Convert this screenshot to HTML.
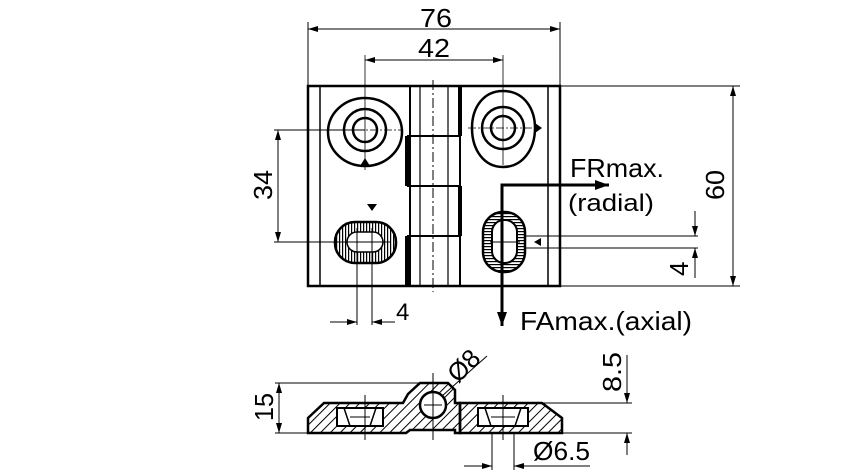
<!DOCTYPE html>
<html><head><meta charset="utf-8"><style>
html,body{margin:0;padding:0;background:#fff;}
svg{display:block;}
text{font-family:"Liberation Sans","DejaVu Sans",sans-serif;fill:#000;}
</style></head><body>
<svg width="850" height="475" viewBox="0 0 850 475" xmlns="http://www.w3.org/2000/svg">
<defs>
<marker id="a" viewBox="0 0 10 6" refX="10" refY="3" markerWidth="10" markerHeight="6" orient="auto-start-reverse" markerUnits="userSpaceOnUse"><path d="M0,0L10,3L0,6z"/></marker>
<marker id="b" viewBox="0 0 14 10" refX="14" refY="5" markerWidth="14" markerHeight="10" orient="auto" markerUnits="userSpaceOnUse"><path d="M0,0L14,5L0,10z"/></marker>
<pattern id="h" width="3" height="3" patternUnits="userSpaceOnUse"><rect width="3" height="1.2" fill="#000"/></pattern>
<pattern id="v" width="3" height="3" patternUnits="userSpaceOnUse"><rect width="1.2" height="3" fill="#000"/></pattern>
<pattern id="d" width="7" height="7" patternUnits="userSpaceOnUse" patternTransform="rotate(45)"><rect width="1" height="7" fill="#000"/></pattern>
</defs>
<g stroke="#000" fill="none">
<rect x="308" y="86" width="252" height="200" stroke-width="2.5"/>
<line x1="320" y1="86" x2="320" y2="286" stroke-width="1.5"/>
<line x1="548" y1="86" x2="548" y2="286" stroke-width="1.5"/>
<line x1="410" y1="86" x2="410" y2="286" stroke-width="2"/>
<line x1="420" y1="86" x2="420" y2="286" stroke-width="1.2"/>
<line x1="448" y1="86" x2="448" y2="286" stroke-width="1.2"/>
<line x1="460" y1="86" x2="460" y2="286" stroke-width="2"/>
<line x1="433" y1="80" x2="433" y2="292" stroke-width="1" stroke-dasharray="10,3,2,3"/>
<g stroke-width="4">
<line x1="460" y1="86" x2="460" y2="136"/><line x1="407" y1="136" x2="407" y2="186"/>
<line x1="460" y1="186" x2="460" y2="236"/><line x1="407" y1="236" x2="407" y2="286"/>
</g>
<g stroke-width="2"><line x1="407" y1="136" x2="460" y2="136"/><line x1="407" y1="186" x2="460" y2="186"/><line x1="407" y1="236" x2="460" y2="236"/></g>
<ellipse cx="365" cy="132" rx="37" ry="34" stroke-width="2.5"/>
<circle cx="365" cy="130" r="21" stroke-width="2.5"/>
<circle cx="365" cy="130" r="12" stroke-width="2.5"/>
<line x1="328" y1="130" x2="402" y2="130" stroke-width="0.8" stroke-dasharray="8,2,2,2"/>
<line x1="365" y1="55" x2="365" y2="170" stroke-width="0.8"/>
<path d="M503,91 C525,91 535,110 535,128 C535,150 522,167 503,167 C484,167 472,150 472,128 C472,108 483,91 503,91Z" stroke-width="2.5"/>
<circle cx="503" cy="128" r="21" stroke-width="2.5"/>
<circle cx="503" cy="128" r="12" stroke-width="2.5"/>
<line x1="468" y1="128" x2="538" y2="128" stroke-width="0.8" stroke-dasharray="8,2,2,2"/>
<line x1="503" y1="55" x2="503" y2="165" stroke-width="0.8"/>
<rect x="335" y="222" width="61" height="41" rx="20" fill="url(#v)" stroke-width="2.5"/>
<rect x="347" y="232" width="36" height="20" rx="10" fill="#fff" stroke-width="1.5"/>
<line x1="340" y1="242" x2="390" y2="242" stroke-width="1"/>
<line x1="357" y1="228" x2="357" y2="325" stroke-width="1"/>
<line x1="372" y1="228" x2="372" y2="325" stroke-width="1"/>
<rect x="483" y="212" width="42" height="60" rx="20" fill="url(#h)" stroke-width="2.5"/>
<rect x="492" y="220" width="25" height="43" rx="12" fill="#fff" stroke-width="2"/>
<line x1="490" y1="242" x2="520" y2="242" stroke-width="1"/>
<g stroke-width="1">
<line x1="308" y1="22" x2="308" y2="86"/><line x1="560" y1="22" x2="560" y2="86"/>
<line x1="308" y1="29" x2="560" y2="29" marker-start="url(#a)" marker-end="url(#a)"/>
<line x1="365" y1="60" x2="503" y2="60" marker-start="url(#a)" marker-end="url(#a)"/>
<line x1="274" y1="130" x2="365" y2="130"/><line x1="274" y1="242" x2="340" y2="242"/>
<line x1="278" y1="130" x2="278" y2="242" marker-start="url(#a)" marker-end="url(#a)"/>
<line x1="560" y1="86" x2="740" y2="86"/><line x1="560" y1="286" x2="740" y2="286"/>
<line x1="733" y1="86" x2="733" y2="286" marker-start="url(#a)" marker-end="url(#a)"/>
<line x1="525" y1="236" x2="698" y2="236"/><line x1="525" y1="248" x2="698" y2="248"/>
<line x1="695" y1="211" x2="695" y2="236" marker-end="url(#a)"/>
<line x1="695" y1="278" x2="695" y2="248" marker-end="url(#a)"/>
<line x1="330" y1="322" x2="357" y2="322" marker-end="url(#a)"/>
<line x1="395" y1="322" x2="372" y2="322" marker-end="url(#a)"/>
</g>
<path d="M502,325 L502,185 L605,185" stroke-width="3"/>
<line x1="502" y1="300" x2="502" y2="326" stroke-width="3" marker-end="url(#b)"/>
<line x1="580" y1="185" x2="609" y2="185" stroke-width="3" marker-end="url(#b)"/>
<path d="M308,433 L308,418 L324,403 L403,403 L408,394 L420,383 L448,383 L455,390 L455,403 L460,403 L460,433 L455,433 L455,430 L410,430 L406,433 Z" fill="url(#d)" stroke-width="2.5"/>
<path d="M460,403 L542,403 L562,418 L562,433 L460,433 Z" fill="url(#d)" stroke-width="2.5"/>
<rect x="337" y="408" width="46" height="18" fill="#fff" stroke-width="2"/>
<rect x="478" y="408" width="50" height="18" fill="#fff" stroke-width="2"/>
<path d="M344,408 L350,426 M376,408 L370,426 M485,408 L491,426 M521,408 L515,426" stroke-width="1.5"/>
<line x1="350" y1="417" x2="370" y2="417" stroke-width="1"/>
<line x1="491" y1="417" x2="515" y2="417" stroke-width="1"/>
<circle cx="433" cy="405" r="13" fill="#fff" stroke-width="2.5"/>
<g stroke-width="1">
<line x1="424" y1="405" x2="442" y2="405"/><line x1="433" y1="373" x2="433" y2="440"/>
<line x1="365" y1="395" x2="365" y2="440"/><line x1="503" y1="395" x2="503" y2="440"/>
<line x1="275" y1="383" x2="420" y2="383"/><line x1="275" y1="433" x2="308" y2="433"/>
<line x1="279" y1="383" x2="279" y2="433" marker-start="url(#a)" marker-end="url(#a)"/>
<line x1="542" y1="403" x2="632" y2="403"/><line x1="562" y1="433" x2="632" y2="433"/>
<line x1="627" y1="355" x2="627" y2="403" marker-end="url(#a)"/>
<line x1="627" y1="455" x2="627" y2="433" marker-end="url(#a)"/>
<line x1="492" y1="433" x2="492" y2="470"/><line x1="514" y1="433" x2="514" y2="470"/>
<line x1="464" y1="466" x2="492" y2="466" marker-end="url(#a)"/>
<line x1="590" y1="466" x2="514" y2="466" marker-end="url(#a)"/>
<line x1="442" y1="396" x2="487" y2="356"/>
</g>
</g>
<g stroke="none" fill="#000">
<path d="M360,166 L370,166 L365,158Z"/>
<path d="M367,204 L377,204 L372,211Z"/>
<path d="M535,123 L535,133 L542,128Z"/>
<path d="M541,238 L541,246 L534,242Z"/>
</g>
<g font-size="26">
<text x="420" y="27" textLength="32" lengthAdjust="spacingAndGlyphs">76</text>
<text x="418" y="57" textLength="32" lengthAdjust="spacingAndGlyphs">42</text>
<text transform="translate(272,200) rotate(-90)" textLength="30" lengthAdjust="spacingAndGlyphs">34</text>
<text transform="translate(724,200) rotate(-90)" textLength="30" lengthAdjust="spacingAndGlyphs">60</text>
<text transform="translate(688,276) rotate(-90)">4</text>
<text x="396" y="320" font-size="24">4</text>
<text x="570" y="177" textLength="94" lengthAdjust="spacingAndGlyphs">FRmax.</text>
<text x="568" y="211" font-size="24" textLength="86" lengthAdjust="spacingAndGlyphs">(radial)</text>
<text x="520" y="330" textLength="172" lengthAdjust="spacingAndGlyphs">FAmax.(axial)</text>
<text transform="translate(273,421) rotate(-90)" textLength="28" lengthAdjust="spacingAndGlyphs">15</text>
<text transform="translate(621,392) rotate(-90)" textLength="40" lengthAdjust="spacingAndGlyphs">8.5</text>
<text x="533" y="460" textLength="57" lengthAdjust="spacingAndGlyphs">Ø6.5</text>
<text transform="translate(458,384) rotate(-45)" textLength="34" lengthAdjust="spacingAndGlyphs">Ø8</text>
</g>
</svg>
</body></html>
